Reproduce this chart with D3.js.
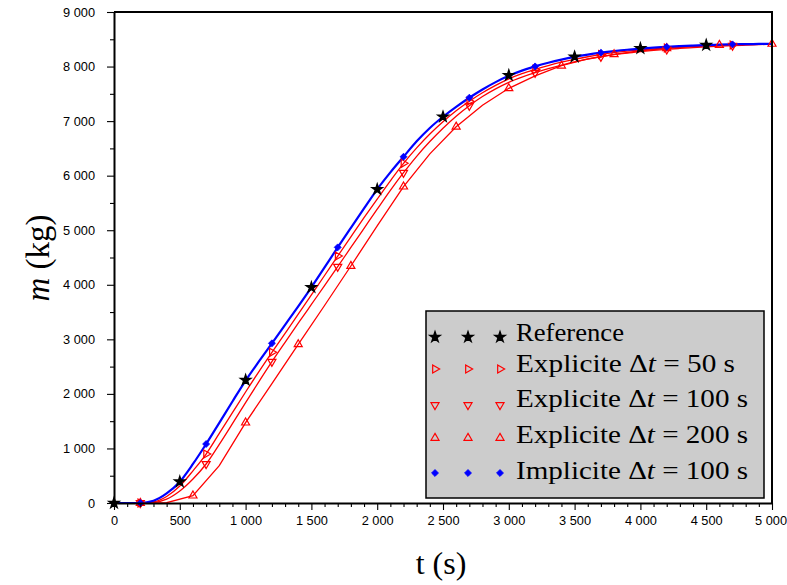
<!DOCTYPE html>
<html><head><meta charset="utf-8">
<script src="https://cdn.jsdelivr.net/npm/d3@7"></script>
<style>body{margin:0;background:#fff}svg{display:block}</style>
</head><body><svg id="c" width="787" height="585"></svg>
<script>
// ---- data ----
const tGrid = [0,100,200,300,400,500,600,700,800,900,1000,1100,1200,1300,1400,1500,1600,1700,1800,1900,2000,2100,2200,2300,2400,2500,2600,2700,2800,2900,3000,3100,3200,3300,3400,3500,3600,3700,3800,3900,4000,4100,4200,4300,4400,4500,4600,4700,4800,4900,5000];
const implicit100 = [0,0,0,40,175,390,715,1081,1470,1860,2245,2590,2927,3265,3605,3953,4318,4686,5045,5400,5750,6060,6347,6630,6875,7080,7262,7429,7580,7715,7830,7925,8003,8070,8128,8178,8220,8254,8283,8308,8328,8346,8361,8374,8385,8394,8401,8407,8411,8414,8416];
const explicit50 = [0,0,0,20,120,310,590,898,1275,1655,2035,2405,2762,3110,3460,3815,4170,4527,4880,5230,5570,5905,6226,6510,6765,6990,7190,7365,7520,7655,7775,7870,7948,8018,8080,8133,8180,8220,8254,8281,8304,8324,8341,8355,8367,8378,8388,8396,8403,8409,8414];
const explicit100 = [0,0,0,10,70,220,440,715,1075,1455,1840,2220,2590,2945,3295,3640,3985,4331,4685,5035,5385,5730,6054,6355,6625,6870,7090,7282,7450,7590,7710,7805,7887,7960,8025,8085,8135,8180,8218,8248,8273,8296,8316,8333,8348,8362,8373,8383,8393,8402,8410];
const t200 = [0,200,400,600,800,1000,1200,1400,1600,1800,2000,2200,2400,2600,2800,3000,3200,3400,3600,3800,4000,4200,4400,4600,4800,5000];
const explicit200 = [0,0,5,134,684,1472,2190,2908,3620,4344,5080,5798,6400,6897,7290,7601,7830,8015,8140,8224,8290,8335,8368,8395,8408,8415];
const refT = [0,500,1000,1500,2000,2500,3000,3500,4000,4500];
const refM = [0,390,2254,3953,5750,7080,7840,8180,8334,8394];
const markT = [200,700,1200,1700,2200,2700,3200,3700,4200,4700];
const mark200T = [200,600,1000,1400,1800,2200,2600,3000,3400,3800,4200,4600,5000];
const xTicks = [0,500,1000,1500,2000,2500,3000,3500,4000,4500,5000];
const yTicks = [0,1000,2000,3000,4000,5000,6000,7000,8000,9000];
const xMinor = [100,200,300,400,600,700,800,900,1100,1200,1300,1400,1600,1700,1800,1900,2100,2200,2300,2400,2600,2700,2800,2900,3100,3200,3300,3400,3600,3700,3800,3900,4100,4200,4300,4400,4600,4700,4800,4900];
const yMinor = [500,1500,2500,3500,4500,5500,6500,7500,8500];
const legendLabels = ["Reference","Explicite Δt = 50 s","Explicite Δt = 100 s","Explicite Δt = 200 s","Implicite Δt = 100 s"];
const legendWidths = [108,219,232,232,232];

// ---- drawing ----
const svg = d3.select("#c");
const L=114, R=772, T=12, B=503;
const x = d3.scaleLinear().domain([0,5000]).range([L,R]);
const y = d3.scaleLinear().domain([0,9000]).range([B,T]);
const fmt = v => d3.format(",")(v).replace(/,/g," ");

svg.append("defs").append("clipPath").attr("id","clip")
  .append("rect").attr("x",L).attr("y",T-8).attr("width",R-L+8).attr("height",B-T+8);

const plot = svg.append("g").attr("clip-path","url(#clip)");

function series(ts, ms){ return ts.map((t,i)=>[t,ms[i]]); }
const lookup = (ts, ms) => { const m=new Map(); ts.forEach((t,i)=>m.set(t,ms[i])); return m; };

const lineSmooth = d3.line().x(d=>x(d[0])).y(d=>y(d[1])).curve(d3.curveMonotoneX);
const lineLin = d3.line().x(d=>x(d[0])).y(d=>y(d[1]));

plot.append("path").attr("d",lineLin(series(t200,explicit200))).attr("fill","none").attr("stroke","#ff0000").attr("stroke-width",1.3);
plot.append("path").attr("d",lineSmooth(series(tGrid,explicit100))).attr("fill","none").attr("stroke","#ff0000").attr("stroke-width",1.3);
plot.append("path").attr("d",lineSmooth(series(tGrid,explicit50))).attr("fill","none").attr("stroke","#ff0000").attr("stroke-width",1.3);
plot.append("path").attr("d",lineSmooth(series(tGrid,implicit100))).attr("fill","none").attr("stroke","#0000ff").attr("stroke-width",2.2);

const star = d3.symbol().type(d3.symbolStar).size(34)();
const tri = d3.symbol().type(d3.symbolTriangle).size(28)();
const dia = d3.symbol().type(d3.symbolSquare).size(24)();

const styles = [
  {path:star, rot:0, fill:"#000", stroke:"#000", sw:1.3},
  {path:tri, rot:90, fill:"none", stroke:"#ff0000", sw:1.2},
  {path:tri, rot:180, fill:"none", stroke:"#ff0000", sw:1.2},
  {path:tri, rot:0, fill:"none", stroke:"#ff0000", sw:1.2},
  {path:dia, rot:45, fill:"#0000ff", stroke:"#0000ff", sw:0.8}
];
function drawMarkers(g, pts, st){
  g.selectAll(null).data(pts).enter().append("path")
    .attr("d",st.path)
    .attr("transform",d=>`translate(${x(d[0])},${y(d[1])}) rotate(${st.rot})`)
    .attr("fill",st.fill).attr("stroke",st.stroke).attr("stroke-width",st.sw);
}
const m50 = lookup(tGrid,explicit50), m100 = lookup(tGrid,explicit100), mImp = lookup(tGrid,implicit100), m200 = lookup(t200,explicit200);
const mk = svg.append("g");
drawMarkers(mk, mark200T.map(t=>[t,m200.get(t)]), styles[3]);
drawMarkers(mk, markT.map(t=>[t,m100.get(t)]), styles[2]);
drawMarkers(mk, markT.map(t=>[t,m50.get(t)]), styles[1]);
drawMarkers(mk, markT.map(t=>[t,mImp.get(t)]), styles[4]);
drawMarkers(mk, series(refT,refM), styles[0]);

// frame
svg.append("path").attr("d",`M${L},${T}H${R}V${B}`).attr("fill","none").attr("stroke","#000").attr("stroke-width",2);

// axes
svg.append("g").attr("transform",`translate(0,${B})`)
  .call(d3.axisBottom(x).tickValues(xTicks).tickSize(7).tickSizeOuter(0).tickPadding(6).tickFormat(fmt))
  .call(g=>g.selectAll(".tick text").filter(d=>d===5000).attr("dx",-1.5));
svg.append("g").attr("transform",`translate(0,${B})`)
  .call(d3.axisBottom(x).tickValues(xMinor).tickSize(4).tickSizeOuter(0).tickFormat(""))
  .call(g=>g.select(".domain").remove());
svg.append("g").attr("transform",`translate(${L},0)`)
  .call(d3.axisLeft(y).tickValues(yTicks).tickSize(7).tickSizeOuter(0).tickPadding(12).tickFormat(fmt));
svg.append("g").attr("transform",`translate(${L},0)`)
  .call(d3.axisLeft(y).tickValues(yMinor).tickSize(4).tickSizeOuter(0).tickFormat(""))
  .call(g=>g.select(".domain").remove());
svg.selectAll(".domain").attr("stroke-width",2);
svg.selectAll(".tick line").attr("stroke","#000").attr("stroke-width",1.1);
svg.selectAll(".tick text").attr("font-family","'Liberation Sans', Arial, sans-serif").attr("font-size",12.8).attr("fill","#000");

// axis titles
svg.append("text").attr("x",441).attr("y",574).attr("text-anchor","middle")
  .attr("font-family","'Liberation Serif', 'DejaVu Serif', serif").attr("font-size",32).text("t (s)");
const yl = svg.append("text").attr("transform","translate(49,258) rotate(-90)").attr("text-anchor","middle")
  .attr("font-family","'Liberation Serif', 'DejaVu Serif', serif").attr("font-size",33);
yl.append("tspan").attr("font-style","italic").text("m");
yl.append("tspan").text(" (kg)");

// legend
const lg = svg.append("g");
lg.append("rect").attr("x",426).attr("y",311).attr("width",338).attr("height",187)
  .attr("fill","#cccccc").attr("stroke","#000").attr("stroke-width",1.5);
const rowY = [337,369,405,438,473];
const baseY = [341,372,407,443,479];
const mx = [435,468,500];
const order = [0,1,2,3,4];
order.forEach((k,i)=>{
  const st = styles[k];
  mx.forEach(xx=>{
    lg.append("path").attr("d",st.path).attr("transform",`translate(${xx},${rowY[i]}) rotate(${st.rot})`)
      .attr("fill",st.fill).attr("stroke",st.stroke).attr("stroke-width",st.sw);
  });
  const tx = lg.append("text").attr("x",516).attr("y",baseY[i])
    .attr("font-family","'Liberation Serif', 'DejaVu Serif', serif").attr("font-size",25)
    .attr("textLength",legendWidths[i]).attr("lengthAdjust","spacingAndGlyphs");
  const lab = legendLabels[k];
  const idx = lab.indexOf("Δt");
  if(idx<0){ tx.text(lab); }
  else {
    tx.append("tspan").text(lab.slice(0,idx+1));
    tx.append("tspan").attr("font-style","italic").text("t");
    tx.append("tspan").text(lab.slice(idx+2));
  }
});
</script>
</body></html>
